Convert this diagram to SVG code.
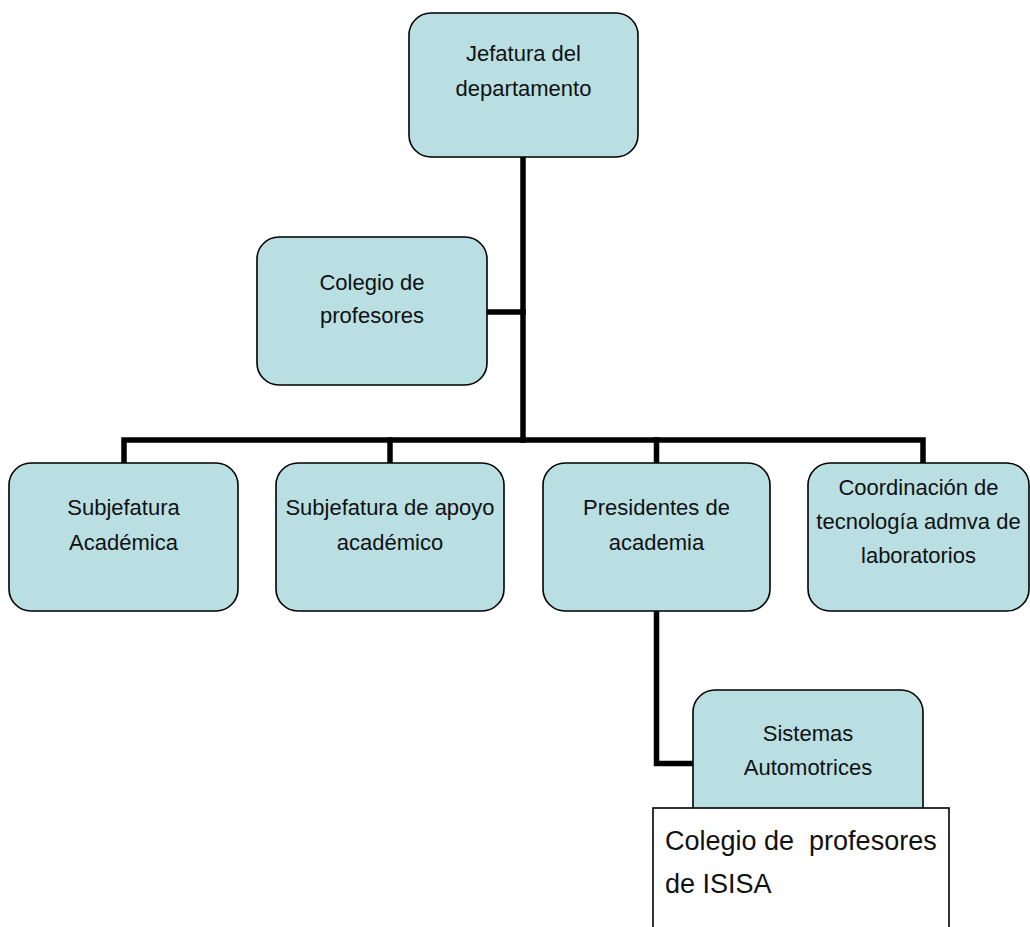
<svg xmlns="http://www.w3.org/2000/svg" width="1030" height="927" viewBox="0 0 1030 927">
  <style>
    .box { fill: #B9DFE2; stroke: #000; stroke-width: 1.6; }
    .note { fill: #fff; stroke: #000; stroke-width: 1.6; }
    .link { fill: none; stroke: #000; stroke-width: 5.5; stroke-linejoin: miter; stroke-linecap: square; }
    .lbl { font-family: "Liberation Sans", Arial, sans-serif; font-size: 22px; fill: #111; text-anchor: middle; }
    .big { font-family: "Liberation Sans", Arial, sans-serif; font-size: 27px; fill: #111; white-space: pre; }
  </style>
  <rect width="1030" height="927" fill="#fff"/>

  <!-- connectors -->
  <g id="connectors">
    <path class="link" d="M523 158 V440"/>
    <path class="link" d="M488 312 H523"/>
    <path class="link" d="M124 462 V440 H923 V462"/>
    <path class="link" d="M390 440 V462"/>
    <path class="link" d="M656.5 440 V462"/>
    <path class="link" d="M656.5 611 V763.5 H693"/>
  </g>

  <g id="jefatura">
    <rect class="box" x="409" y="13" width="229" height="144" rx="22"/>
    <text class="lbl" x="523.5" y="61">Jefatura del</text>
    <text class="lbl" x="523.5" y="96">departamento</text>
  </g>

  <g id="colegio">
    <rect class="box" x="257" y="237" width="230" height="148" rx="22"/>
    <text class="lbl" x="372" y="290">Colegio de</text>
    <text class="lbl" x="372" y="323">profesores</text>
  </g>

  <g id="subjefatura-academica">
    <rect class="box" x="9" y="463" width="229" height="148" rx="22"/>
    <text class="lbl" x="123.5" y="515">Subjefatura</text>
    <text class="lbl" x="123.5" y="550">Académica</text>
  </g>

  <g id="subjefatura-apoyo">
    <rect class="box" x="276" y="463" width="228" height="148" rx="22"/>
    <text class="lbl" x="390" y="515">Subjefatura de apoyo</text>
    <text class="lbl" x="390" y="550">académico</text>
  </g>

  <g id="presidentes">
    <rect class="box" x="543" y="463" width="227" height="148" rx="22"/>
    <text class="lbl" x="656.5" y="515">Presidentes de</text>
    <text class="lbl" x="656.5" y="550">academia</text>
  </g>

  <g id="coordinacion">
    <rect class="box" x="808" y="463" width="221" height="148" rx="22"/>
    <text class="lbl" x="918.5" y="495">Coordinación de</text>
    <text class="lbl" x="918.5" y="529">tecnología admva de</text>
    <text class="lbl" x="918.5" y="563">laboratorios</text>
  </g>

  <g id="sistemas">
    <rect class="box" x="693" y="690" width="230" height="150" rx="22"/>
    <text class="lbl" x="808" y="741">Sistemas</text>
    <text class="lbl" x="808" y="775">Automotrices</text>
  </g>

  <g id="colegio-isisa">
    <rect class="note" x="653" y="808" width="296" height="140"/>
    <text class="big" x="665" y="850">Colegio de  profesores</text>
    <text class="big" x="665" y="893">de ISISA</text>
  </g>
</svg>
